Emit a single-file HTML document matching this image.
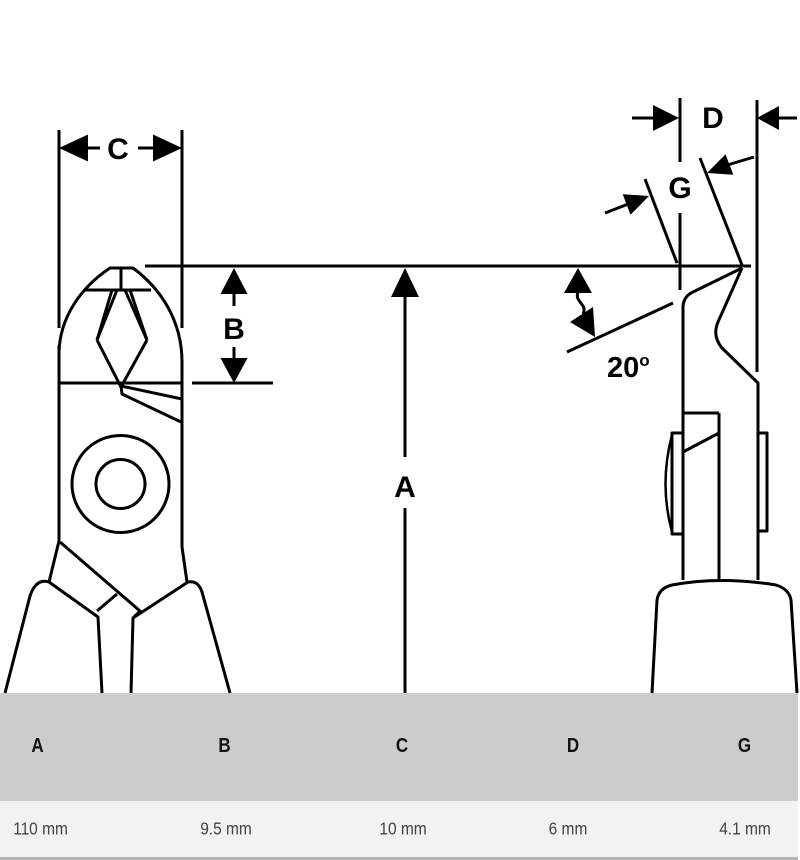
<!DOCTYPE html>
<html><head><meta charset="utf-8">
<style>
html,body{margin:0;padding:0;background:#fff;}
body{width:800px;height:860px;overflow:hidden;position:relative;}
svg{position:absolute;left:0;top:0;}
</style></head>
<body>
<svg width="800" height="860" viewBox="0 0 800 860" xmlns="http://www.w3.org/2000/svg">
<!-- table -->
<rect x="0" y="693" width="798" height="108" fill="#cccccc"/>
<rect x="0" y="801" width="798" height="56" fill="#f2f2f2"/>
<rect x="0" y="857" width="798" height="3" fill="#b4b4b4"/>
<g font-family="Liberation Sans, Arial, sans-serif" font-weight="bold" font-size="17" fill="#111" text-anchor="middle">
<text transform="translate(37.5,752) scale(1,1.18)">A</text>
<text transform="translate(224.5,752) scale(1,1.18)">B</text>
<text transform="translate(402,752) scale(1,1.18)">C</text>
<text transform="translate(573,752) scale(1,1.18)">D</text>
<text transform="translate(744.5,752) scale(1,1.18)">G</text>
</g>
<g font-family="Liberation Sans, Arial, sans-serif" font-size="15.5" fill="#444" text-anchor="middle">
<text transform="translate(40.5,834.5) scale(1,1.15)">110 mm</text>
<text transform="translate(226,834.5) scale(1,1.15)">9.5 mm</text>
<text transform="translate(403,834.5) scale(1,1.15)">10 mm</text>
<text transform="translate(568,834.5) scale(1,1.15)">6 mm</text>
<text transform="translate(745,834.5) scale(1,1.15)">4.1 mm</text>
</g>

<g stroke="#000" stroke-width="3" fill="none" stroke-linejoin="round">
<!-- C dimension -->
<line x1="59" y1="130" x2="59" y2="328"/>
<line x1="182" y1="130" x2="182" y2="328"/>
<line x1="86" y1="148" x2="100" y2="148"/>
<line x1="138" y1="148" x2="155" y2="148"/>
<!-- long horizontal -->
<line x1="145" y1="266" x2="751" y2="266"/>
<!-- B dimension -->
<line x1="234" y1="292" x2="234" y2="306"/>
<line x1="234" y1="347" x2="234" y2="360"/>
<line x1="192" y1="383" x2="273" y2="383"/>
<!-- A dimension -->
<line x1="405" y1="295" x2="405" y2="457"/>
<line x1="405" y1="508" x2="405" y2="693"/>

<!-- left plier head -->
<path d="M59,352 C60,318 80,288 110,268 L133,268 C160,288 182,320 182,362"/>
<line x1="121" y1="268" x2="121" y2="290"/>
<line x1="85" y1="290" x2="151" y2="290"/>
<line x1="112" y1="290" x2="97" y2="340"/>
<line x1="117" y1="290" x2="97" y2="340"/>
<line x1="125" y1="290" x2="147" y2="340"/>
<line x1="130" y1="290" x2="147" y2="340"/>
<path d="M97,340 L121,387 L147,340"/>
<line x1="59" y1="383" x2="182" y2="383"/>
<path d="M121,386 L182,399"/>
<path d="M121,386 L122,394 L181,422"/>
<!-- left plier body -->
<line x1="59" y1="345" x2="59" y2="541"/>
<line x1="182" y1="360" x2="182" y2="547"/>
<circle cx="120.5" cy="484" r="48.5"/>
<circle cx="120.5" cy="484" r="24.5"/>
<path d="M59,541 L49,582"/>
<path d="M182,547 L187,582"/>
<path d="M60,542 L140,611 L133,618"/>
<line x1="97" y1="611" x2="117" y2="594"/>
<!-- left handles -->
<path d="M5,693 L30,596 Q36,578 49,582 L98,617 L102,693"/>
<path d="M131,693 L133,618 L188,582 Q198,580 202,592 L230,693"/>

<!-- right plier top -->
<path d="M683,580 L683,306 Q684,296 693,292 L742,268"/>
<path d="M742,268 L718,322 Q712,336 722,348 L758,383 L758,580"/>
<line x1="683" y1="413" x2="719" y2="413"/>
<line x1="719" y1="413" x2="719" y2="580"/>
<line x1="683" y1="452" x2="719" y2="433"/>
<rect x="672" y="433" width="11" height="101"/>
<path d="M672,435 Q659,484 672,532" stroke-width="2.5"/>
<rect x="758" y="433" width="9" height="98"/>
<path d="M652,693 L657,600 Q659,588 672,585 Q720,576 776,585 Q789,589 791,600 L797,693"/>

<!-- D / G dimension -->
<line x1="680" y1="98" x2="680" y2="162"/>
<line x1="680" y1="213" x2="680" y2="290"/>
<line x1="757" y1="100" x2="757" y2="372"/>
<line x1="632" y1="118" x2="654" y2="118"/>
<line x1="777" y1="118" x2="797" y2="118"/>
<line x1="645" y1="179" x2="677" y2="263"/>
<line x1="700" y1="158" x2="742" y2="265"/>
<line x1="605" y1="213" x2="627" y2="204.5"/>
<line x1="729" y1="164.5" x2="754" y2="157"/>

<!-- 20 deg -->
<line x1="567" y1="352" x2="673" y2="303"/>
<path d="M578,292 C574,302 588,304 583,314"/>
</g>

<g fill="#000" stroke="none">
<!-- C arrows -->
<polygon points="59,148 88,134.5 88,161.5"/>
<polygon points="182,148 153,134.5 153,161.5"/>
<!-- B arrows -->
<polygon points="234,268 220.5,294 247.5,294"/>
<polygon points="234,383 220.5,358 247.5,358"/>
<!-- A arrow -->
<polygon points="405,268 391,297 419,297"/>
<!-- D arrows -->
<polygon points="679,118 653,105 653,131"/>
<polygon points="757,118 779,106 779,130"/>
<!-- G arrows -->
<polygon points="649,196 630.5,214.8 622.7,194.2"/>
<polygon points="707,173 733.3,174.8 725.5,154.2"/>
<!-- angle arrows -->
<polygon points="578,268 564,293 592,293"/>
<polygon points="595,337 570,322 593,307"/>
</g>

<g font-family="Liberation Sans, Arial, sans-serif" font-weight="bold" font-size="30" fill="#000" text-anchor="middle">
<text x="118" y="159">C</text>
<text x="234" y="339">B</text>
<text x="405" y="497">A</text>
<text x="713" y="128">D</text>
<text x="680" y="198">G</text>
</g>
<text x="607" y="377" font-family="Liberation Sans, Arial, sans-serif" font-weight="bold" font-size="29" fill="#000">20<tspan font-size="17" dy="-11">o</tspan></text>
</svg>
</body></html>
